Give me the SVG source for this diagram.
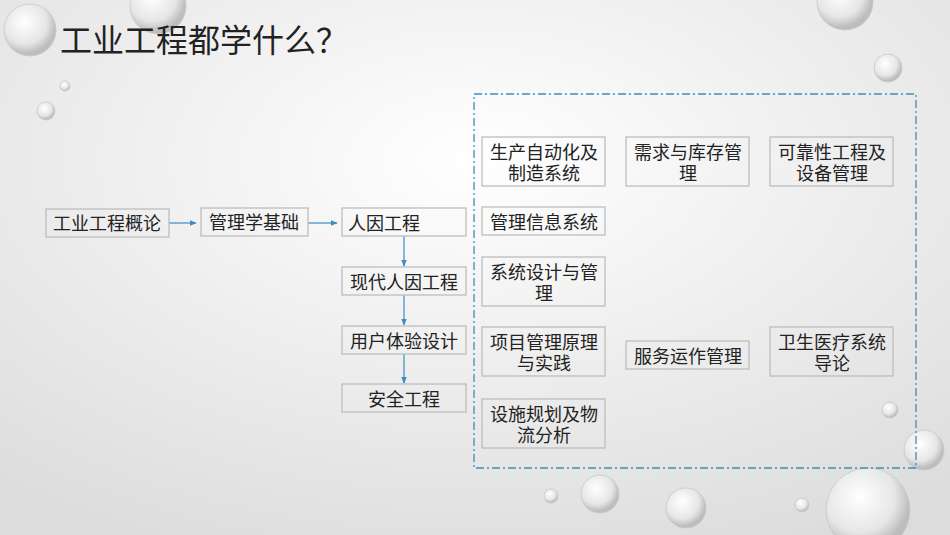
<svg xmlns="http://www.w3.org/2000/svg" width="950" height="535" viewBox="0 0 950 535">
<defs>
<radialGradient id="bg" cx="0.5" cy="0.3" r="0.8"><stop offset="0" stop-color="#ffffff"/><stop offset="1" stop-color="#dcdcdc"/></radialGradient>
<radialGradient id="drop" cx="0.4" cy="0.35" r="0.6"><stop offset="0" stop-color="#ffffff"/><stop offset="0.7" stop-color="#e6e6e6"/><stop offset="1" stop-color="#bdbdbd"/></radialGradient>
<marker id="ar" viewBox="0 0 10 10" refX="9" refY="5" markerWidth="6" markerHeight="6" orient="auto"><path d="M0,1 L10,5 L0,9 z" fill="#3c8dbf"/></marker>
</defs>
<style>
.n rect{fill:none;stroke:#bdbdbd;stroke-width:1.3}
.n text{font-family:"Liberation Sans","Noto Sans CJK SC",sans-serif;font-size:18px;fill:#222;text-anchor:middle}
.c line{stroke:#3c8dbf;stroke-width:1.2;marker-end:url(#ar)}
.d{fill:url(#drop);stroke:#c8c8c8;stroke-width:0.8}
</style>
<rect width="950" height="535" fill="url(#bg)"/>
<g>
<circle class="d" cx="30" cy="30" r="26"/><circle class="d" cx="65" cy="86" r="5"/><circle class="d" cx="46" cy="111" r="9"/>
<circle class="d" cx="158" cy="6" r="28"/><circle class="d" cx="845" cy="2" r="28"/><circle class="d" cx="888" cy="68" r="14"/>
<circle class="d" cx="890" cy="410" r="8"/><circle class="d" cx="924" cy="450" r="20"/><circle class="d" cx="600" cy="494" r="19"/>
<circle class="d" cx="551" cy="496" r="7"/><circle class="d" cx="686" cy="508" r="20"/><circle class="d" cx="802" cy="505" r="7"/>
<circle class="d" cx="868" cy="510" r="42"/>
</g>
<text x="60" y="52" font-family="Liberation Sans,'Noto Sans CJK SC',sans-serif" font-size="32" fill="#222">工业工程都学什么？</text>
<rect x="474" y="94" width="442" height="374" fill="none" stroke="#3c8dbf" stroke-width="1.3" stroke-dasharray="8,3,2,3"/>
<g class="c">
<line x1="169" y1="223" x2="196" y2="223"/>
<line x1="308" y1="223" x2="337" y2="223"/>
<line x1="404" y1="236" x2="404" y2="266"/>
<line x1="404" y1="295" x2="404" y2="325"/>
<line x1="404" y1="354" x2="404" y2="383"/>
</g>
<g id="n1" class="n"><rect x="46" y="209" width="123" height="28"/><text x="107" y="230">工业工程概论</text></g>
<g id="n2" class="n"><rect x="201" y="208" width="107" height="28"/><text x="254" y="229">管理学基础</text></g>
<g id="n3" class="n"><rect x="342" y="208" width="124" height="28"/><text x="384" y="230">人因工程</text></g>
<g id="n4" class="n"><rect x="342" y="267" width="124" height="28"/><text x="404" y="289">现代人因工程</text></g>
<g id="n5" class="n"><rect x="342" y="326" width="124" height="28"/><text x="404" y="348">用户体验设计</text></g>
<g id="n6" class="n"><rect x="342" y="384" width="124" height="28"/><text x="404" y="406">安全工程</text></g>
<g id="n7" class="n"><rect x="482" y="137" width="123" height="49"/><text x="544" y="159">生产自动化及</text><text x="544" y="180">制造系统</text></g>
<g id="n8" class="n"><rect x="626" y="137" width="123" height="49"/><text x="688" y="159">需求与库存管</text><text x="688" y="180">理</text></g>
<g id="n9" class="n"><rect x="770" y="137" width="123" height="49"/><text x="832" y="159">可靠性工程及</text><text x="832" y="180">设备管理</text></g>
<g id="n10" class="n"><rect x="482" y="207" width="123" height="28"/><text x="544" y="229">管理信息系统</text></g>
<g id="n11" class="n"><rect x="482" y="257" width="123" height="49"/><text x="544" y="279">系统设计与管</text><text x="544" y="300">理</text></g>
<g id="n12" class="n"><rect x="482" y="327" width="123" height="49"/><text x="544" y="349">项目管理原理</text><text x="544" y="370">与实践</text></g>
<g id="n13" class="n"><rect x="626" y="341" width="123" height="28"/><text x="688" y="363">服务运作管理</text></g>
<g id="n14" class="n"><rect x="770" y="327" width="123" height="49"/><text x="832" y="349">卫生医疗系统</text><text x="832" y="370">导论</text></g>
<g id="n15" class="n"><rect x="482" y="399" width="123" height="49"/><text x="544" y="421">设施规划及物</text><text x="544" y="442">流分析</text></g>
</svg>
